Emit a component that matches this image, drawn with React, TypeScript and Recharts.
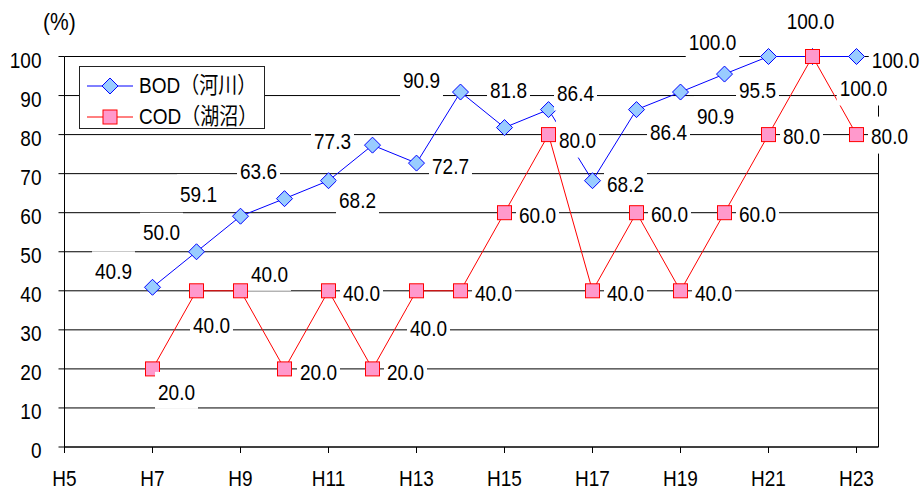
import { LineChart, Line, XAxis, YAxis, CartesianGrid, LabelList } from "recharts";

// 年度 (平成)
const years = [7, 8, 9, 10, 11, 12, 13, 14, 15, 16, 17, 18, 19, 20, 21, 22, 23];
const bodRate = [40.9, 50.0, 59.1, 63.6, 68.2, 77.3, 72.7, 90.9, 81.8, 86.4, 68.2, 86.4, 90.9, 95.5, 100.0, 100.0, 100.0];
const codRate = [20.0, 40.0, 40.0, 20.0, 40.0, 20.0, 40.0, 40.0, 60.0, 80.0, 40.0, 60.0, 40.0, 60.0, 80.0, 100.0, 80.0];
const xTicks = [5, 7, 9, 11, 13, 15, 17, 19, 21, 23];
const yTicks = [0, 10, 20, 30, 40, 50, 60, 70, 80, 90, 100];

// label offsets (dx, dy) from the point, like hand-moved excel labels
const bodLabelPos = [
  [-39, -16], [-35, -19], [-42, -22], [-26, -27], [29, 20], [-40, -4], [34, 3], [-39, -12],
  [4, -37], [27, -16], [33, 4], [32, 23], [35, 24], [33, 16], [-56, -14], [-2, -35], [39, 4],
];
const codLabelPos = [
  [24, 23], [15, 34], [29, -17], [34, 3], [33, 2], [33, 3], [12, 37], [33, 2],
  [33, 3], [29, 6], [33, 2], [33, 2], [33, 2], [33, 2], [33, 2], [51, 32], [33, 2],
];

const data = years.map((y, i) => ({ year: y, bod: bodRate[i], cod: codRate[i] }));

const FONT = "'Liberation Sans', Arial, 'Noto Sans CJK JP', sans-serif";
const STRETCH = 1.13;

const makeLabel = (pos: number[][]) => (props: any) => {
  const { x, y, value, index } = props;
  const [dx, dy] = pos[index] || [33, 2];
  const cx = x + dx;
  const cy = y + dy;
  const txt = Number(value).toFixed(1);
  const w = (txt.length - 1) * 10.56 + 5.28;
  return (
    <g key={`lb-${index}`}>
      <rect x={cx - w / 2 - 3} y={cy - 20} width={w + 6} height={37} fill="#fff" />
      <text
        transform={`translate(${cx},${cy}) scale(1,${STRETCH})`}
        textAnchor="middle"
        dy="0.36em"
        fontSize={19}
        fontFamily={FONT}
        fill="#000"
      >
        {txt}
      </text>
    </g>
  );
};

const Diamond = (props: any) => {
  const { cx, cy, index } = props;
  return (
    <path
      key={`bd-${index}`}
      d={`M${cx},${cy - 8}L${cx + 8},${cy}L${cx},${cy + 8}L${cx - 8},${cy}Z`}
      fill="#99CCFF"
      stroke="#0000FF"
      strokeWidth={1}
    />
  );
};

const Square = (props: any) => {
  const { cx, cy, index } = props;
  return (
    <rect key={`cd-${index}`} x={cx - 7} y={cy - 7} width={14} height={14} fill="#FF99CC" stroke="#FF0000" strokeWidth={1} />
  );
};

const YTick = (p: any) => (
  <text
    transform={`translate(${p.x},${p.y + 3.5}) scale(1,${STRETCH})`}
    textAnchor="end"
    dy="0.36em"
    fontSize={19}
    fontFamily={FONT}
    fill="#000"
  >
    {p.payload.value}
  </text>
);

const XTick = (p: any) => (
  <text
    transform={`translate(${p.x},${p.y + 7}) scale(1,${STRETCH})`}
    textAnchor="middle"
    dy="0.36em"
    fontSize={19}
    fontFamily={FONT}
    fill="#000"
  >
    {"H" + p.payload.value}
  </text>
);

const legendItems = [
  { name: "BOD（河川）", color: "#0000FF", fill: "#99CCFF", shape: "diamond" },
  { name: "COD（湖沼）", color: "#FF0000", fill: "#FF99CC", shape: "square" },
];

const App = () => {
  return (
    <div style={{ position: "relative", width: 921, height: 489, background: "#fff" }}>
      <style>{`body{margin:0}`}</style>
      <LineChart
        width={921}
        height={489}
        data={data}
        margin={{ top: 56.5, right: 42.5, bottom: 0, left: 0 }}
      >
        <CartesianGrid
          stroke="#000"
          strokeWidth={1}
          verticalCoordinatesGenerator={({ offset }: any) => [offset.left + offset.width]}
        />
        <XAxis
          dataKey="year"
          type="number"
          domain={[5, 23.5]}
          ticks={xTicks}
          interval={0}
          height={42}
          stroke="#000"
          tickSize={6}
          tickMargin={18}
          tick={XTick}
        />
        <YAxis
          domain={[0, 100]}
          ticks={yTicks}
          interval={0}
          width={64.5}
          stroke="#000"
          tickSize={6}
          tickMargin={17}
          tick={YTick}
        />
        <Line
          dataKey="bod"
          stroke="#0000FF"
          strokeWidth={1}
          dot={Diamond}
          activeDot={false}
          isAnimationActive={false}
        >
          <LabelList dataKey="bod" content={makeLabel(bodLabelPos)} />
        </Line>
        <Line
          dataKey="cod"
          stroke="#FF0000"
          strokeWidth={1}
          dot={Square}
          activeDot={false}
          isAnimationActive={false}
        >
          <LabelList dataKey="cod" content={makeLabel(codLabelPos)} />
        </Line>
      </LineChart>

      <div
        style={{
          position: "absolute",
          left: 43,
          top: 10,
          fontSize: 21,
          lineHeight: "24px",
          fontFamily: FONT,
          transform: `scaleY(${STRETCH})`,
        }}
      >
        (%)
      </div>

      <div
        style={{
          position: "absolute",
          left: 79,
          top: 66,
          width: 186,
          height: 63,
          boxSizing: "border-box",
          border: "1px solid #222",
          background: "#fff",
          fontFamily: FONT,
        }}
      >
        {legendItems.map((it, i) => (
          <div key={it.name}>
            <svg
              width={46}
              height={20}
              style={{ position: "absolute", left: 7, top: 9 + i * 31 }}
            >
              <line x1={0} y1={10} x2={46} y2={10} stroke={it.color} strokeWidth={1} />
              {it.shape === "diamond" ? (
                <path d="M23,2L31,10L23,18L15,10Z" fill={it.fill} stroke={it.color} />
              ) : (
                <rect x={16} y={3} width={14} height={14} fill={it.fill} stroke={it.color} />
              )}
            </svg>
            <div
              style={{
                position: "absolute",
                left: 59,
                top: 9 + i * 31,
                fontSize: 19,
                lineHeight: "20px",
                whiteSpace: "nowrap",
                transform: `scaleY(1.18)`,
              }}
            >
              {it.name}
            </div>
          </div>
        ))}
      </div>
    </div>
  );
};

export default App;
